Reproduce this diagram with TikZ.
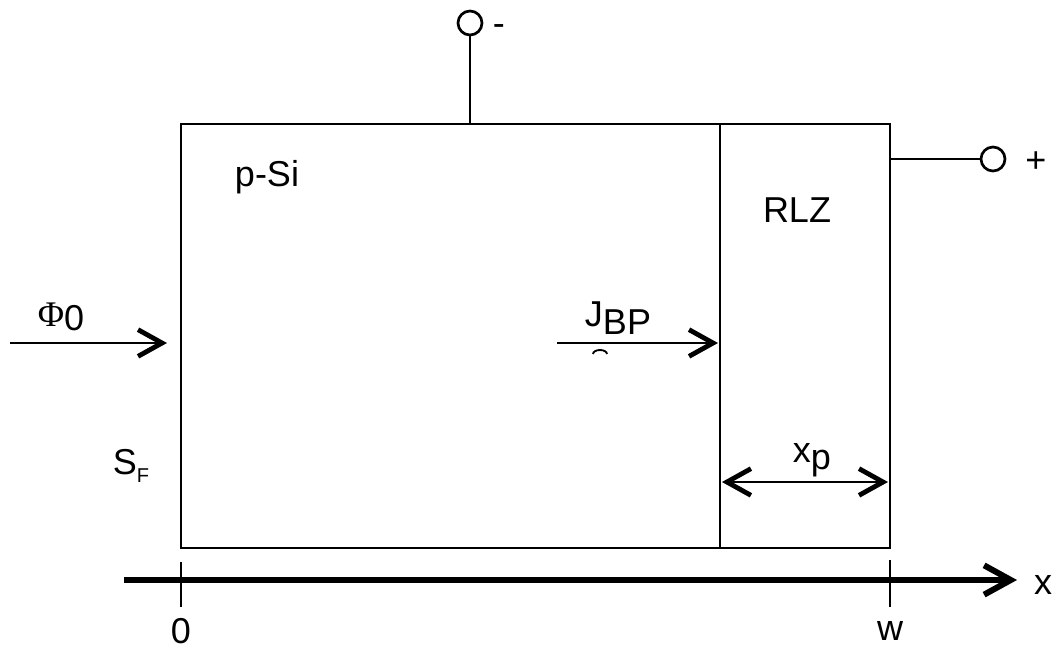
\documentclass[tikz,border=0pt]{standalone}
\usepackage{fontspec}
\setmainfont{Liberation Sans}
\newfontfamily\greekfont{Liberation Serif}
\usetikzlibrary{
  arrows.meta,
  positioning,
  calc
}

\begin{document}
\begin{tikzpicture}[
x=0.75pt,
y=-0.75pt,
font=\fontsize{27}{32}\selectfont,
wire/.style={
line width=1.5pt
},
flux/.style={
line width=2.2pt,
-{Straight Barb[length=18pt,width=20pt,line width=3.6pt]}
},
span/.style={
line width=2.2pt,
{Straight Barb[length=18pt,width=20pt,line width=3.6pt]}-{Straight Barb[length=18pt,width=20pt,line width=3.6pt]}
},
axis/.style={
line width=4.5pt,
-{Straight Barb[length=20pt,width=22pt,line width=4.5pt]}
},
tickline/.style={
line width=0.8pt
},
terminal/.style={
circle,
draw,
line width=2pt,
minimum size=18pt,
inner sep=0pt
},
sign/.style={
inner sep=0pt
}
]
\useasboundingbox (0,0) rectangle (1058,650);

% Device - p-Si bulk and space charge region
\coordinate (bl) at (181,548);
\coordinate (tr) at (890,124);
\draw[wire] (bl) rectangle (tr);
\coordinate (jtop) at (720,124);
\coordinate (jbot) at (720,548);
\draw[wire] (jtop) -- (jbot);

\node at (267,177) (psi) {p-Si};
\node at (131,466) (sf) {S\raisebox{-0.4ex}{\fontsize{15}{17}\selectfont F}};
\node at (797,210) (rlz) {RLZ};

% Contacts
\node[terminal] at (470,23) (tminus) {};
\coordinate (cminus) at (470,124);
\draw[wire] (cminus) -- (tminus.south);
\node[sign, right=7pt of tminus, yshift=-5pt] (lminus) {-};

\node[terminal] at (993,159) (tplus) {};
\coordinate (cplus) at (890,159);
\draw[wire] (cplus) -- (tplus.west);
\node[sign, right=14pt of tplus, yshift=-2pt] (lplus) {+};

% Incident light and current
\coordinate (phistart) at (10,343);
\coordinate (phiend) at (167,343);
\draw[flux] (phistart) -- (phiend);
\node at (61,317) (phi) {{\greekfont Φ}\raisebox{-3pt}{0}};

\coordinate (jstart) at (557,343);
\coordinate (jend) at (718,343);
\draw[flux] (jstart) -- (jend);
\node at (618,318) (jbp) {J\raisebox{-6pt}{BP}};
\draw[line width=1.4pt] (593,354) arc[start angle=180,end angle=360,x radius=7,y radius=4];

% Width of space charge region
\coordinate (xpleft) at (722,482);
\coordinate (xpright) at (888,482);
\draw[span] (xpleft) -- (xpright);
\node at (812,460) (xp) {x\raisebox{-5pt}{p}};

% x axis
\coordinate (axstart) at (124,580);
\coordinate (axend) at (1017,580);
\draw[axis] (axstart) -- (axend);
\node at (1043,585) (xlab) {x};

\coordinate (t0top) at (181,562);
\coordinate (t0bot) at (181,607);
\draw[tickline] (t0top) -- (t0bot);
\node at (181,631) (zero) {0};

\coordinate (twtop) at (890,560);
\coordinate (twbot) at (890,607);
\draw[tickline] (twtop) -- (twbot);
\node at (890,631) (wlab) {w};

\end{tikzpicture}
\end{document}
